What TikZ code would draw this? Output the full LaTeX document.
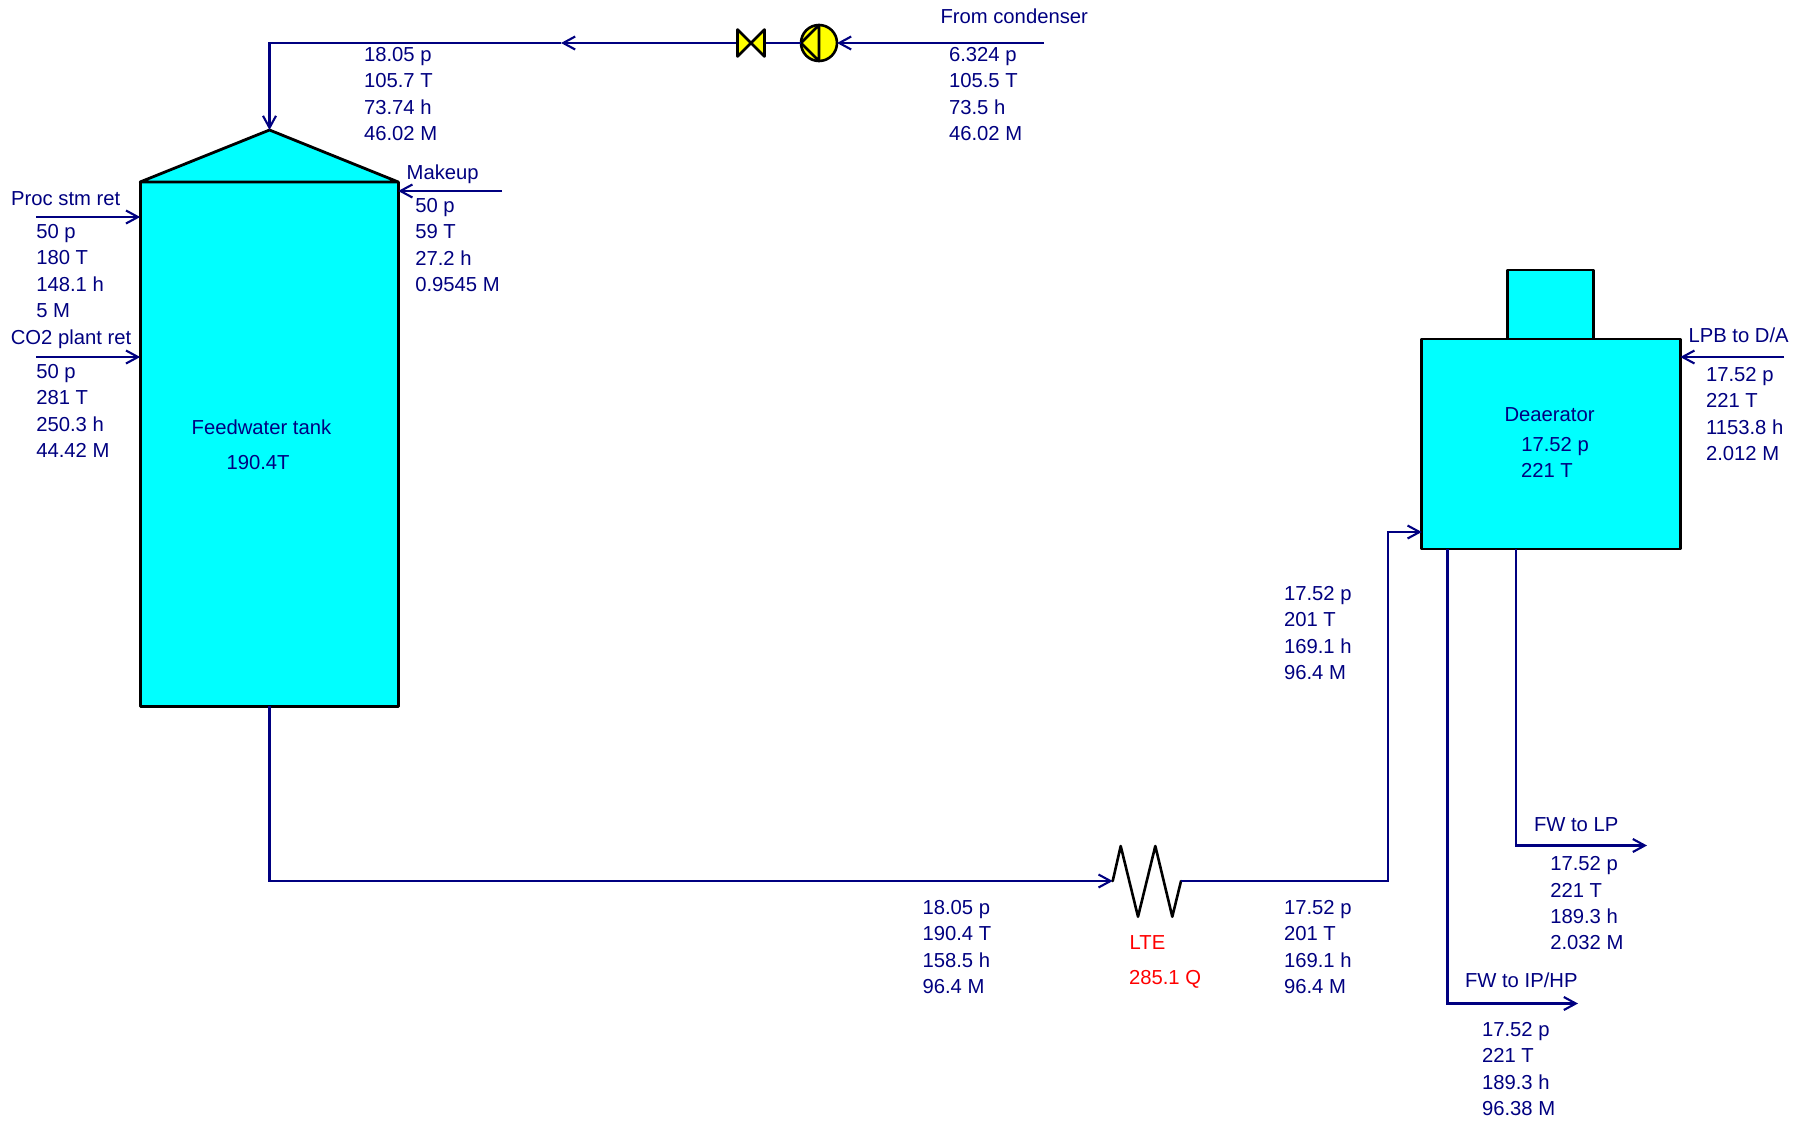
\documentclass[tikz,border=0pt]{standalone}
\usepackage{fontspec}
\setmainfont{Liberation Sans}
\usetikzlibrary{arrows.meta,calc}
\definecolor{pipe}{RGB}{0,0,128}
\definecolor{vessel}{RGB}{0,255,255}
\definecolor{fitting}{RGB}{255,255,0}
\newcommand{\vals}[7]{%
  \node[lab] (#1a) at (#2,#3) {#4};
  \node[lab] (#1b) at (#2,#3+26.7) {#5};
  \node[lab] (#1c) at (#2,#3+53.2) {#6};
  \node[lab] (#1d) at (#2,#3+79.2) {#7};
}
\tikzset{
  lab/.style={anchor=base west,inner sep=0pt,outer sep=0pt,text=pipe,font=\fontsize{20.25}{24}\selectfont},
  redlab/.style={lab,text=red},
  vesselbox/.style={draw=black,fill=vessel,line width=2.8pt,line join=round,inner sep=0pt,outer sep=0pt},
  fitshape/.style={draw=black,fill=fitting,line width=2.6pt,line join=round},
  pipeline/.style={draw=pipe,line width=2.6pt,line join=miter},
  flow/.style={pipeline,-{Straight Barb[length=12pt,width=13pt,line width=2.1pt]}},
  blackline/.style={draw=black,line width=2.6pt,line join=round,line cap=round}
}
\begin{document}
\begin{tikzpicture}[x=1pt,y=-1pt]
\useasboundingbox (0,0) rectangle (1806,1120);
% vessels
\coordinate (apex) at (269.5,130);
\node[vesselbox,minimum width=258pt,minimum height=524.5pt] (tank) at (269.2,444.2) {};
\draw[vesselbox] (tank.north west) -- (apex) -- (tank.north east) -- cycle;
\node[vesselbox,minimum width=85.5pt,minimum height=69pt] (dome) at (1550.5,304.5) {};
\node[vesselbox,minimum width=258.5pt,minimum height=210pt] (deaer) at (1551,444) {};
% pump and valve
\node[circle,fitshape,minimum size=36pt,inner sep=0pt,outer sep=0pt] (pump) at (819,43) {};
\draw[blackline] (pump.north) -- (pump.south) -- (pump.west) -- cycle;
\node[minimum width=27pt,minimum height=27pt,inner sep=0pt,outer sep=0pt] (valve) at (751,43) {};
% top line
\coordinate (cond) at (1044,43);
\coordinate (mid) at (561,43);
\coordinate (corner) at (apex |- mid);
\draw[flow] (cond) -- (pump.east);
\draw[pipeline] (pump.west) -- (valve.east);
\draw[flow] (valve.west) -- (mid);
\draw[flow] (mid) -- (corner) -- (apex);
\draw[fitshape] (valve.north west) -- (valve.south east) -- (valve.north east) -- (valve.south west) -- cycle;
% side feeds
\coordinate (procin) at (36,217);
\coordinate (co2in) at (36,357);
\coordinate (makeup) at (502,191);
\coordinate (lpb) at (1784,357);
\draw[flow] (procin) -- (procin -| tank.west);
\draw[flow] (co2in) -- (co2in -| tank.west);
\draw[flow] (makeup) -- (makeup -| tank.east);
\draw[flow] (lpb) -- (lpb -| deaer.east);
% feedwater to LTE
\coordinate (hxin) at (1112.7,881);
\coordinate (hxout) at (1181,881);
\coordinate (risebot) at (1388,881);
\coordinate (risetop) at (1388,532);
\draw[flow] (tank.south) |- (hxin);
\draw[blackline] (hxin) -- (1120.7,846) -- (1138,916.7) -- (1155.3,846) -- (1172.3,916.7) -- (hxout);
\draw[flow] (hxout) -- (risebot) -- (risetop) -- (risetop -| deaer.west);
% outlets
\coordinate (ipout) at (1578,1003.5);
\coordinate (lpout) at (1647,845.5);
\coordinate (iptap) at (1447.7,1003.5);
\coordinate (lptap) at (1516,845.5);
\draw[flow] (iptap |- deaer.south) -- (iptap) -- (ipout);
\draw[flow] (lptap |- deaer.south) -- (lptap) -- (lpout);
% labels
\node[lab] (lcond) at (940.5,23) {From condenser};
\vals{c}{949}{61}{6.324 p}{105.5 T}{73.5 h}{46.02 M}
\vals{t}{364}{61}{18.05 p}{105.7 T}{73.74 h}{46.02 M}
\node[lab] (lproc) at (11.2,205) {Proc stm ret};
\vals{p}{36.3}{238}{50 p}{180 T}{148.1 h}{5 M}
\node[lab] (lco) at (10.8,344) {CO2 plant ret};
\vals{o}{36.3}{378}{50 p}{281 T}{250.3 h}{44.42 M}
\node[lab] (lmk) at (406.7,179) {Makeup};
\vals{m}{415.3}{212}{50 p}{59 T}{27.2 h}{0.9545 M}
\node[lab] (ltank) at (191.7,434) {Feedwater tank};
\node[lab] (ttank) at (226.5,469) {190.4T};
\node[lab] (ldeaer) at (1504.5,421) {Deaerator};
\node[lab] (pdeaer) at (1521.3,451) {17.52 p};
\node[lab] (tdeaer) at (1521,477) {221 T};
\node[lab] (llpb) at (1688.5,342) {LPB to D/A};
\vals{l}{1706}{381}{17.52 p}{221 T}{1153.8 h}{2.012 M}
\vals{r}{1284}{600}{17.52 p}{201 T}{169.1 h}{96.4 M}
\vals{f}{922.5}{914}{18.05 p}{190.4 T}{158.5 h}{96.4 M}
\vals{e}{1284}{914}{17.52 p}{201 T}{169.1 h}{96.4 M}
\node[redlab] (llte) at (1129.7,949) {LTE};
\node[redlab] (qlte) at (1129,984) {285.1 Q};
\node[lab] (lfwlp) at (1534,831) {FW to LP};
\vals{x}{1550.3}{870.5}{17.52 p}{221 T}{189.3 h}{2.032 M}
\node[lab] (lfwip) at (1465,987) {FW to IP/HP};
\vals{y}{1482}{1036}{17.52 p}{221 T}{189.3 h}{96.38 M}
\end{tikzpicture}
\end{document}
